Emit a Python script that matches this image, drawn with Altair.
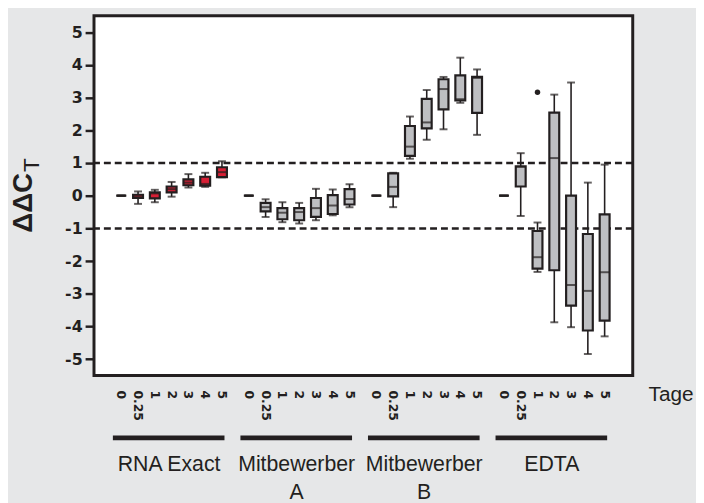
import altair as alt
import pandas as pd

groups = ["RNA Exact", "Mitbewerber\nA", "Mitbewerber\nB", "EDTA"]
days = ["0", "0.25", "1", "2", "3", "4", "5"]

# per group: whisker low, q1, median, q3, whisker high (one value per day)
rna_lo = [0, -0.25, -0.20, -0.03, 0.25, 0.27, 0.56]
rna_q1 = [0, -0.07, -0.08, 0.10, 0.32, 0.31, 0.57]
rna_md = [0, -0.03, 0.07, 0.20, 0.40, 0.36, 0.72]
rna_q3 = [0, 0.03, 0.10, 0.28, 0.50, 0.58, 0.87]
rna_hi = [0, 0.13, 0.18, 0.42, 0.66, 0.70, 1.05]

ma_lo = [0, -0.65, -0.81, -0.85, -0.75, -0.60, -0.35]
ma_q1 = [0, -0.48, -0.72, -0.75, -0.65, -0.56, -0.27]
ma_md = [0, -0.35, -0.52, -0.50, -0.38, -0.30, -0.10]
ma_q3 = [0, -0.22, -0.38, -0.38, -0.07, 0.02, 0.20]
ma_hi = [0, -0.11, -0.20, -0.22, 0.21, 0.19, 0.35]

mb_lo = [0, -0.35, 1.13, 1.71, 2.03, 2.84, 1.86]
mb_q1 = [0, -0.02, 1.22, 2.06, 2.64, 2.91, 2.53]
mb_md = [0, 0.27, 1.50, 2.24, 3.26, 2.95, 3.60]
mb_q3 = [0, 0.68, 2.13, 2.96, 3.56, 3.68, 3.63]
mb_hi = [0, 0.70, 2.42, 3.23, 3.63, 4.22, 3.86]

ed_lo = [0, -0.62, -2.33, -3.87, -4.02, -4.84, -4.30]
ed_q1 = [0, 0.28, -2.23, -2.28, -3.36, -4.12, -3.82]
ed_md = [0, 0.88, -1.88, 1.15, -2.73, -2.91, -2.34]
ed_q3 = [0, 0.90, -1.08, 2.54, 0.00, -1.17, -0.57]
ed_hi = [0, 1.30, -0.82, 3.09, 3.46, 0.40, 0.95]

# outliers: (group index, day index, value)
outliers = [(3, 2, 3.16)]

thresholds = [1, -1]
y_ticks = [-5, -4, -3, -2, -1, 0, 1, 2, 3, 4, 5]

stats = [
    (rna_lo, rna_q1, rna_md, rna_q3, rna_hi),
    (ma_lo, ma_q1, ma_md, ma_q3, ma_hi),
    (mb_lo, mb_q1, mb_md, mb_q3, mb_hi),
    (ed_lo, ed_q1, ed_md, ed_q3, ed_hi),
]

GROUP_STEP = 7.6  # slot distance between group starts
INK = "#231f20"
RED = "#d71f35"
GRAY = "#bebfc2"
FONT = "Liberation Sans"

rows = []
for g, (lo, q1, md, q3, hi) in enumerate(stats):
    for i, d in enumerate(days):
        rows.append(dict(group=groups[g], gi=g, day=d, pos=g * GROUP_STEP + i,
                         lo=lo[i], q1=q1[i], md=md[i], q3=q3[i], hi=hi[i],
                         fill=RED if g == 0 else GRAY))
df = pd.DataFrame(rows)

out_df = pd.DataFrame([dict(pos=g * GROUP_STEP + i, v=v) for g, i, v in outliers])
thr_df = pd.DataFrame({"y": thresholds})
grp_df = pd.DataFrame([dict(group=groups[g], start=g * GROUP_STEP - 0.5,
                            end=g * GROUP_STEP + 6.15, mid=g * GROUP_STEP + 2.85)
                       for g in range(len(groups))])

W, H = 545, 364
xs = alt.Scale(domain=[-1.33, 30.18], nice=False, zero=False)
ys = alt.Scale(domain=[-5.5, 5.5], nice=False, zero=False)
yaxis = alt.Axis(values=y_ticks, labelExpr="'' + datum.value", grid=False, domain=False,
                 ticks=True, tickSize=9, tickWidth=2.5, tickColor=INK,
                 labelFont="DejaVu Sans", labelFontWeight="bold", labelFontSize=16,
                 labelColor=INK, labelPadding=3, title=None)


def X(field):
    return alt.X(f"{field}:Q", scale=xs, axis=None)


def Y(field):
    return alt.Y(f"{field}:Q", scale=ys, axis=yaxis)


base = alt.Chart(df)

thr = alt.Chart(thr_df).mark_rule(color=INK, strokeWidth=2.5, strokeDash=[7, 4]).encode(y=Y("y"))

whisk = base.mark_rule(color=INK, strokeWidth=1.6).encode(x=X("pos"), y=Y("lo"), y2="hi:Q")
cap_lo = base.mark_tick(color=INK, orient="horizontal", size=8, thickness=2).encode(x=X("pos"), y=Y("lo"))
cap_hi = base.mark_tick(color=INK, orient="horizontal", size=8, thickness=2).encode(x=X("pos"), y=Y("hi"))
box = base.mark_bar(size=10, stroke=INK, strokeWidth=2.2).encode(
    x=X("pos"), y=Y("q1"), y2="q3:Q", fill=alt.Fill("fill:N", scale=None))
med = base.mark_tick(color=INK, orient="horizontal", size=10, thickness=2).encode(x=X("pos"), y=Y("md"))

outl = alt.Chart(out_df).mark_circle(color=INK, opacity=1, size=30).encode(x=X("pos"), y=Y("v"))

day_lbl = base.mark_text(angle=90, align="left", baseline="middle", font="DejaVu Sans",
                         fontWeight="bold", fontSize=12.5, color=INK).encode(
    x=X("pos"), y=alt.value(H + 15), text="day:N")

grp_bar = alt.Chart(grp_df).mark_rule(color=INK, strokeWidth=5).encode(
    x=X("start"), x2="end:Q", y=alt.value(427))
grp_lbl = alt.Chart(grp_df).mark_text(font=FONT, fontSize=21.5, color=INK, align="center",
                                      baseline="alphabetic", lineBreak="\n", lineHeight=28).encode(
    x=X("mid"), y=alt.value(461), text="group:N")

tage = alt.Chart(thr_df.head(1)).mark_text(font=FONT, fontSize=21, color=INK, align="left",
                                           baseline="alphabetic", text="Tage").encode(
    x=alt.value(561), y=alt.value(390))

ytitle = alt.Chart(thr_df.head(1)).mark_text(font=FONT, fontSize=28, fontWeight="bold", color=INK,
                                             angle=270, align="right", baseline="alphabetic",
                                             text="ΔΔC").encode(
    x=alt.value(-63), y=alt.value(159))
ysub = alt.Chart(thr_df.head(1)).mark_text(font=FONT, fontSize=23, color=INK,
                                           angle=270, align="left", baseline="alphabetic",
                                           text="T").encode(
    x=alt.value(-56), y=alt.value(158))

chart = alt.layer(thr, whisk, cap_lo, cap_hi, box, med, outl, day_lbl, grp_bar, grp_lbl,
                  tage, ytitle, ysub).properties(
    width=W, height=H,
    autosize=alt.AutoSizeParams(type="none"),
    padding={"left": 87, "top": 5, "right": 64, "bottom": 126},
    background="#e6e7e8",
).configure_view(fill="white", stroke=INK, strokeWidth=3)

chart.save("out.html", embed_options={"renderer": "svg", "actions": False})
